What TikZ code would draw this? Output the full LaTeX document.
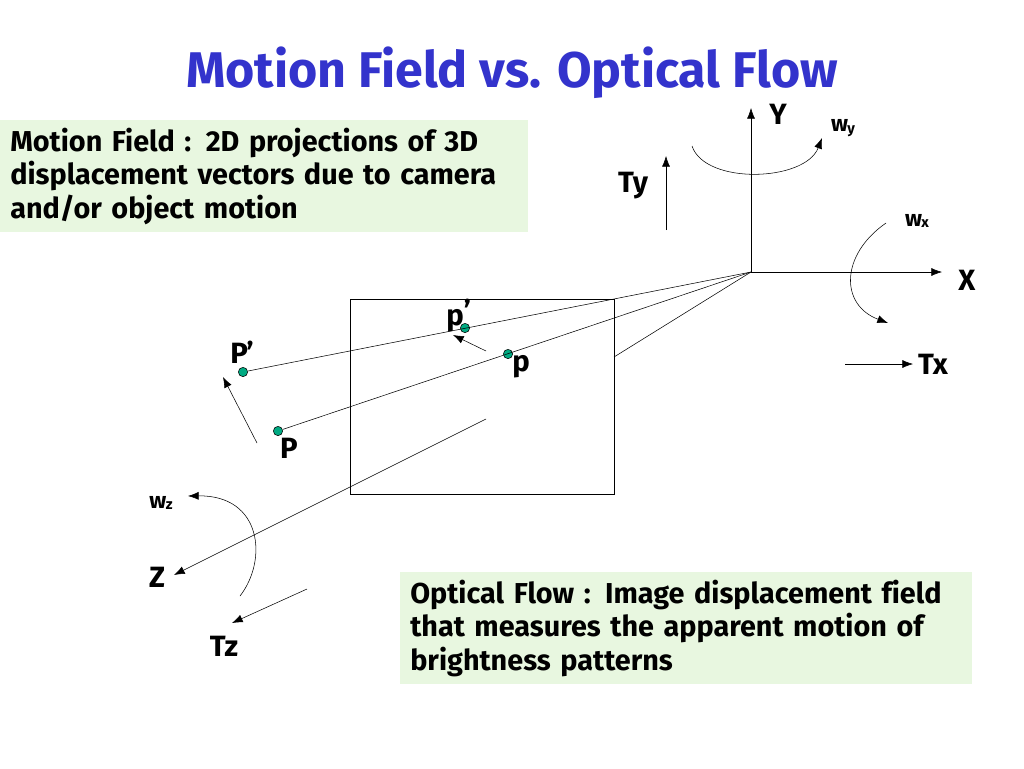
\documentclass[tikz,border=0pt]{standalone}
\usepackage{fontspec}
\setmainfont{Fira Sans}[Ligatures=NoCommon]
\usetikzlibrary{arrows,arrows.meta,positioning,calc}
\definecolor{titleblue}{RGB}{51,51,204}
\definecolor{boxgreen}{RGB}{232,247,224}
\definecolor{dotgreen}{RGB}{0,170,130}
\newcommand{\subtxt}[1]{\kern-0.5pt\raisebox{-1pt}{\fontsize{11}{12}\selectfont #1}}
\tikzstyle{point}=[draw,fill=dotgreen,circle,minimum size=7pt,inner sep=0pt,thin]
\tikzstyle{label}=[font=\fontsize{22}{25}\selectfont\bfseries,inner sep=0pt]
\tikzstyle{small}=[font=\fontsize{17}{18}\selectfont\bfseries,inner sep=0pt]
\tikzstyle{textbox}=[fill=boxgreen,anchor=north west,align=left,inner xsep=7.5pt,
  font=\fontsize{21.6}{25}\selectfont\bfseries]

\begin{document}
\begin{tikzpicture}[x=0.75pt,y=-0.75pt,>={Latex[length=8pt,width=6pt]},thin]
\useasboundingbox (0,0) rectangle (1024,768);
% title and the two notes
\node (title) [font=\fontsize{37.6}{40}\selectfont\bfseries,text=titleblue] at (512,73) {Motion Field vs. Optical Flow};
\node (mfbox) [textbox,minimum width=396pt,minimum height=84pt,text width=381pt] at (0,120)
  {Motion Field : 2D projections of 3D\\displacement vectors due to camera\\and/or object motion};
\node (ofbox) [textbox,minimum width=429pt,minimum height=84pt,text width=414pt] at (400,572)
  {Optical Flow : Image displacement field\\that measures the apparent motion of\\brightness patterns};
% camera axes
\coordinate (O) at (751,272);
\coordinate (Yend) at (751,108);
\coordinate (Xend) at (942,272);
\coordinate (Zstart) at (486,419);
\coordinate (Zend) at (174,575);
\draw[->] (O) -- (Yend);
\draw[->] (O) -- (Xend);
\draw[->] (Zstart) -- (Zend);
\node (Ylab) [label] at (778,114) {Y};
\node (Xlab) [label] at (967,280) {X};
\node (Zlab) [label] at (157,577) {Z};
% image plane
\draw (350,299) rectangle (614,494);
\coordinate (edge) at (614,357);
% scene and image points
\node (Pp) [point] at (243,372) {};
\node (P) [point] at (278,431) {};
\node (pp) [point] at (465,328) {};
\node (p) [point] at (508,354) {};
\node (Pplab) [label] at (242,352) {P\kern-1pt’};
\node (Plab) [label] at (289,448) {P};
\node (pplab) [label] at (455,316) {p\rlap{\raisebox{3pt}{’}}};
\node (plab) [label] at (521,367) {p};
\draw (O) -- (Pp);
\draw (O) -- (P);
\draw (O) -- (edge);
\coordinate (Pa) at (257,443);
\coordinate (Pb) at (223,377);
\draw[->] (Pa) -- (Pb);
\coordinate (pa) at (486,351);
\coordinate (pb) at (453,335);
\draw[->] (pa) -- (pb);
% translations
\coordinate (Tya) at (666,230);
\coordinate (Tyb) at (666,156);
\draw[->] (Tya) -- (Tyb);
\node (Tylab) [label] at (633,186) {Ty};
\coordinate (Txa) at (845,364);
\coordinate (Txb) at (913,364);
\draw[->] (Txa) -- (Txb);
\node (Txlab) [label] at (933,364) {Tx};
\coordinate (Tza) at (307,589);
\coordinate (Tzb) at (232,623);
\draw[->] (Tza) -- (Tzb);
\node (Tzlab) [label] at (224,646) {Tz};
% rotations
\coordinate (wya) at (692,146);
\coordinate (wyb) at (822,138);
\draw[->] (wya) .. controls (705,185) and (805,182) .. (wyb);
\node (wylab) [small] at (843,128) {w\subtxt{y}};
\coordinate (wxa) at (886,223);
\coordinate (wxb) at (888,323);
\draw[->] (wxa) .. controls (840,255) and (840,305) .. (wxb);
\node (wxlab) [small] at (917,221) {w\subtxt{x}};
\coordinate (wza) at (240,596);
\coordinate (wzb) at (188,496);
\draw[->] (wza) .. controls (268,560) and (262,495) .. (wzb);
\node (wzlab) [small] at (161,503) {w\subtxt{z}};
\end{tikzpicture}
\end{document}
